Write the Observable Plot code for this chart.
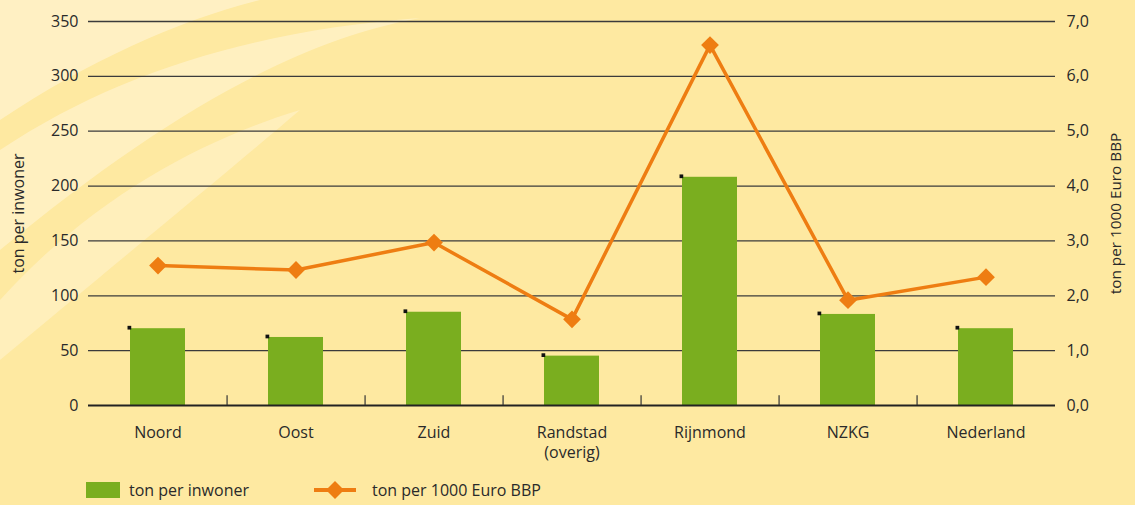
<!DOCTYPE html>
<html>
<head>
<meta charset="utf-8">
<script src="https://cdn.jsdelivr.net/npm/d3@7"></script>
<script src="https://cdn.jsdelivr.net/npm/@observablehq/plot@0.6"></script>
<style>
  html, body { margin: 0; padding: 0; }
  body { width: 1135px; height: 505px; overflow: hidden; background: #fee9a1; font-family: "Open Sans", "Noto Sans", sans-serif; color: #2a2a2a; position: relative; }
  #bg { position: absolute; left: 0; top: 0; z-index: 0; }
  #chart { position: absolute; left: 0; top: 0; z-index: 1; }
  #legend { position: absolute; left: 0; top: 478px; width: 1135px; height: 27px; z-index: 1; font-size: 16px; }
  .item { position: absolute; top: 0; display: flex; align-items: center; height: 24px; }
</style>
</head>
<body>
<svg id="bg" width="1135" height="505">
  <path d="M0,0 L260,0 C180,20 90,60 0,120 Z" fill="#fff1c6" opacity="0.9"/>
  <path d="M0,150 C120,70 260,30 420,18 C300,40 170,110 0,250 Z" fill="#fff1c6" opacity="0.85"/>
  <path d="M0,300 C90,200 200,140 300,110 C230,170 120,260 0,360 Z" fill="#fff1c6" opacity="0.7"/>
</svg>
<div id="chart"></div>
<div id="legend">
  <div class="item" style="left:86px;"><span style="display:inline-block;width:34px;height:16px;background:#7aae1f;"></span><span style="margin-left:9px;">ton per inwoner</span></div>
  <div class="item" style="left:314px;"><svg width="44" height="24"><line x1="0" y1="12" x2="42" y2="12" stroke="#ee7d12" stroke-width="4"/><path d="M21,3 L30,12 L21,21 L12,12 Z" fill="#ee7d12"/></svg><span style="margin-left:14px;">ton per 1000 Euro BBP</span></div>
</div>
<script>
const categories = ["Noord", "Oost", "Zuid", "Randstad\n(overig)", "Rijnmond", "NZKG", "Nederland"];
const tonPerInwoner = [70, 62, 85, 45, 208, 83, 70];
const tonPer1000EuroBBP = [2.55, 2.47, 2.97, 1.57, 6.57, 1.92, 2.34];
const leftTicks = [0, 50, 100, 150, 200, 250, 300, 350];
const rightTicks = [0, 1, 2, 3, 4, 5, 6, 7];
const ratio = 50; // 1,0 on right axis = 50 on left axis

const data = categories.map((c, i) => ({cat: c, inw: tonPerInwoner[i], bbp: tonPer1000EuroBBP[i]}));

const W = 1135, H = 465, mL = 88, mR = 80, mT = 21, mB = 60;
const pInner = 0.6, pOuter = 0.3;
const step = (W - mL - mR) / (categories.length - pInner + 2 * pOuter);
const bw = step * (1 - pInner);
const ink = "#2a2a2a";
const fontSize = 16;

const chart = Plot.plot({
  width: W, height: H,
  marginLeft: mL, marginRight: mR, marginTop: mT, marginBottom: mB,
  style: {background: "transparent", fontFamily: "'Open Sans', 'Noto Sans', sans-serif", fontSize: fontSize + "px", color: ink},
  x: {type: "band", domain: categories, paddingInner: pInner, paddingOuter: pOuter, label: null},
  y: {domain: [0, 350], label: null},
  marks: [
    Plot.ruleY(leftTicks.filter(d => d > 0), {stroke: "#3b3b3b", strokeWidth: 1.3}),
    Plot.barY(data, {x: "cat", y: "inw", fill: "#7aae1f"}),
    Plot.ruleY([0], {stroke: "#222", strokeWidth: 1.8}),
    Plot.ruleX(categories.slice(0, -1), {x: d => d, y1: 0, y2: 9, dx: step / 2, stroke: "#333", strokeWidth: 1.2}),
    Plot.dot(data, {x: "cat", y: "inw", symbol: "square", r: 2.1, fill: "#111", stroke: "none", dx: -bw / 2 - 1, dy: -1}),
    Plot.line(data, {x: "cat", y: d => d.bbp * ratio, stroke: "#ee7d12", strokeWidth: 3.5}),
    Plot.dot(data, {x: "cat", y: d => d.bbp * ratio, symbol: "diamond2", r: 8, fill: "#ee7d12", stroke: "none"}),
    Plot.axisY(leftTicks, {anchor: "left", tickSize: 0, tickPadding: 10, fontSize: fontSize, fill: ink,
      label: "ton per inwoner", labelAnchor: "center", labelOffset: 76, labelArrow: "none"}),
    Plot.axisY(rightTicks.map(d => d * ratio), {anchor: "right", tickSize: 0, tickPadding: 11, fontSize: fontSize, fill: ink,
      tickFormat: d => (d / ratio).toFixed(1).replace(".", ","),
      label: "ton per 1000 Euro BBP", labelAnchor: "center", labelOffset: 65, labelArrow: "none"}),
    Plot.axisX({tickSize: 0, tickPadding: 18, label: null, fontSize: fontSize, fill: ink, lineHeight: 1.25})
  ]
});
const labels = chart.querySelectorAll("g[aria-label='y-axis label']");
labels.forEach((el, i) => el.setAttribute("font-size", i === 0 ? "16" : "15.3"));
document.getElementById("chart").appendChild(chart);
</script>
</body>
</html>
